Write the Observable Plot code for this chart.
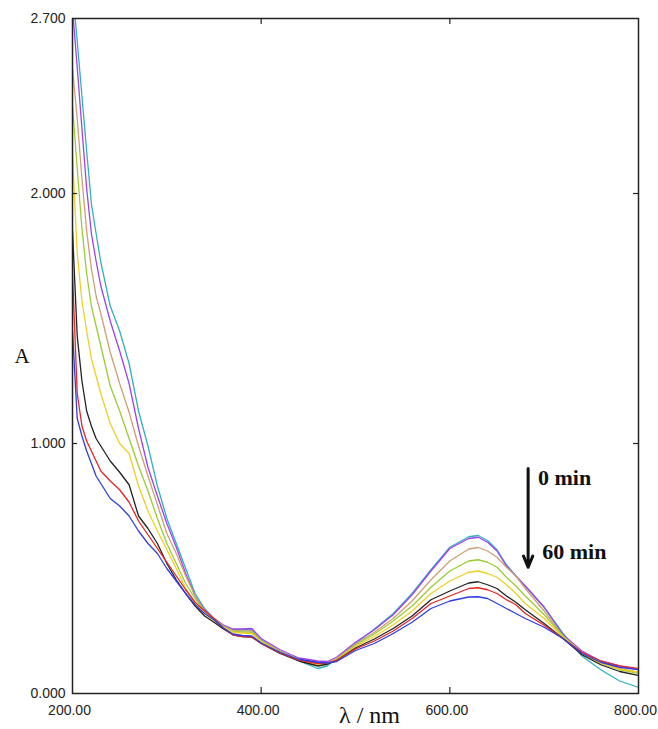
<!DOCTYPE html>
<html><head><meta charset="utf-8">
<script src="https://cdn.jsdelivr.net/npm/d3@7"></script>
<script src="https://cdn.jsdelivr.net/npm/@observablehq/plot@0.6"></script>
<style>body{margin:0;background:#fff}</style>
</head><body><div id="chart"></div>
<script>
const wavelength = [200,205,210,215,220,225,230,240,250,260,270,280,290,300,310,320,330,340,350,360,370,380,390,400,420,440,460,470,480,500,520,540,560,580,600,620,630,640,650,660,670,680,700,720,740,760,780,800];

const cyan   = [2.82,2.61,2.39,2.17,1.96,1.84,1.725,1.55,1.45,1.32,1.13,0.99,0.83,0.70,0.60,0.50,0.40,0.34,0.30,0.272,0.255,0.255,0.255,0.215,0.168,0.13,0.10,0.11,0.14,0.20,0.258,0.32,0.40,0.495,0.585,0.627,0.632,0.612,0.575,0.515,0.47,0.43,0.345,0.24,0.15,0.095,0.05,0.025];
const purple = [2.74,2.505,2.26,2.02,1.84,1.73,1.63,1.49,1.37,1.24,1.06,0.905,0.79,0.68,0.585,0.48,0.39,0.335,0.30,0.274,0.258,0.258,0.26,0.22,0.175,0.142,0.13,0.128,0.145,0.205,0.255,0.315,0.395,0.49,0.58,0.62,0.625,0.605,0.57,0.51,0.47,0.43,0.345,0.235,0.17,0.13,0.11,0.095];
const tan    = [2.50,2.30,2.06,1.85,1.70,1.59,1.52,1.365,1.24,1.125,0.99,0.87,0.755,0.64,0.56,0.47,0.39,0.33,0.30,0.27,0.252,0.25,0.25,0.212,0.17,0.137,0.12,0.123,0.14,0.198,0.245,0.30,0.37,0.455,0.53,0.578,0.584,0.57,0.545,0.505,0.47,0.42,0.33,0.23,0.165,0.125,0.10,0.085];
const green  = [2.35,2.10,1.86,1.68,1.55,1.47,1.39,1.23,1.13,1.02,0.91,0.81,0.70,0.60,0.52,0.44,0.38,0.33,0.295,0.268,0.248,0.246,0.245,0.21,0.167,0.135,0.115,0.12,0.137,0.193,0.238,0.29,0.35,0.425,0.49,0.53,0.535,0.525,0.505,0.465,0.43,0.39,0.315,0.23,0.16,0.12,0.095,0.08];
const yellow = [2.15,1.76,1.57,1.45,1.34,1.27,1.20,1.08,1.00,0.96,0.83,0.73,0.65,0.575,0.50,0.42,0.36,0.32,0.29,0.265,0.245,0.242,0.24,0.207,0.165,0.133,0.115,0.12,0.135,0.188,0.228,0.275,0.33,0.40,0.45,0.485,0.49,0.48,0.465,0.435,0.40,0.36,0.30,0.225,0.16,0.12,0.097,0.085];
const black  = [1.85,1.43,1.25,1.13,1.07,1.02,0.99,0.93,0.885,0.835,0.71,0.66,0.60,0.52,0.455,0.40,0.35,0.31,0.285,0.258,0.235,0.228,0.226,0.20,0.16,0.13,0.11,0.117,0.132,0.182,0.218,0.26,0.31,0.375,0.41,0.442,0.447,0.435,0.42,0.39,0.365,0.335,0.28,0.22,0.155,0.115,0.088,0.072];
const red    = [1.68,1.20,1.07,1.01,0.97,0.93,0.89,0.85,0.815,0.765,0.69,0.635,0.58,0.525,0.47,0.415,0.365,0.33,0.30,0.262,0.235,0.228,0.226,0.20,0.162,0.133,0.12,0.122,0.132,0.178,0.21,0.25,0.30,0.36,0.39,0.42,0.423,0.415,0.40,0.375,0.355,0.32,0.273,0.22,0.165,0.13,0.11,0.10];
const blue   = [1.45,1.10,1.03,0.97,0.92,0.87,0.84,0.78,0.75,0.71,0.65,0.60,0.56,0.50,0.45,0.40,0.355,0.32,0.295,0.262,0.238,0.232,0.23,0.202,0.165,0.137,0.125,0.122,0.128,0.172,0.20,0.24,0.285,0.34,0.37,0.386,0.387,0.38,0.36,0.34,0.32,0.30,0.265,0.22,0.16,0.125,0.105,0.095];

const seriesValues = [cyan, purple, tan, green, yellow, black, red, blue];
const seriesColors = ["#2fb2c0","#a040f0","#cf9f72","#9acd32","#f0cf22","#222222","#e82424","#2f3ee0"];

const yTicks = [0, 1, 2, 2.7];
const xTicks = [200, 400, 600, 800];
const innerYTicks = [1, 2];
const innerXTicks = [400, 600];

const arrowData = [{x1: 683, y1: 0.90, x2: 683, y2: 0.505}];
const notes = [{x: 693.5, y: 0.862, text: "0 min"}, {x: 698, y: 0.565, text: "60 min"}];

const serif = "'Liberation Serif', 'Times New Roman', serif";
const W = 658, H = 729, ML = 72, MR = 20, MT = 18, MB = 36;
const PW = W - ML - MR, PH = H - MT - MB;

const lineMarks = seriesValues.map((vals, i) =>
  Plot.line(wavelength.map((w, j) => [w, vals[j]]), {x: d => d[0], y: d => d[1], stroke: seriesColors[i], strokeWidth: 1.3, clip: true})
);

const chart = Plot.plot({
  width: W, height: H,
  marginLeft: ML, marginRight: MR, marginTop: MT, marginBottom: MB,
  x: {domain: [200, 800]},
  y: {domain: [0, 2.7]},
  style: {fontFamily: "'Liberation Sans', Arial, sans-serif", background: "#fff", overflow: "visible"},
  marks: [
    ...lineMarks,
    Plot.frame({stroke: "#222", strokeWidth: 1.5}),
    Plot.tickY(innerYTicks, {y: d => d, insetRight: PW - 5, stroke: "#222", strokeWidth: 1.2}),
    Plot.tickY(innerYTicks, {y: d => d, insetLeft: PW - 5, stroke: "#222", strokeWidth: 1.2}),
    Plot.tickX(innerXTicks, {x: d => d, insetTop: PH - 6, stroke: "#222", strokeWidth: 1.2}),
    Plot.tickX(innerXTicks, {x: d => d, insetBottom: PH - 6, stroke: "#222", strokeWidth: 1.2}),
    Plot.axisY(yTicks, {tickSize: 0, tickPadding: 7, tickFormat: d3.format(".3f"), fontSize: 14, fill: "#222", label: null}),
    Plot.axisX(xTicks, {tickSize: 0, tickPadding: 12, dx: -3, tickFormat: d3.format(".2f"), fontSize: 14, fill: "#222", label: null}),
    Plot.text(["λ / nm"], {frameAnchor: "bottom", dx: 14, dy: 29, fontFamily: serif, fontSize: 24, fill: "#111"}),
    Plot.text(["A"], {frameAnchor: "left", dx: -58, fontFamily: serif, fontSize: 21, fill: "#111"}),
    Plot.arrow(arrowData, {x1: "x1", y1: "y1", x2: "x2", y2: "y2", stroke: "#111", strokeWidth: 3, headLength: 6, headAngle: 45}),
    Plot.text(notes, {x: "x", y: "y", text: "text", textAnchor: "start", fontFamily: serif, fontWeight: "bold", fontSize: 22, fill: "#111"})
  ]
});
document.getElementById("chart").appendChild(chart);
</script>
</body></html>
